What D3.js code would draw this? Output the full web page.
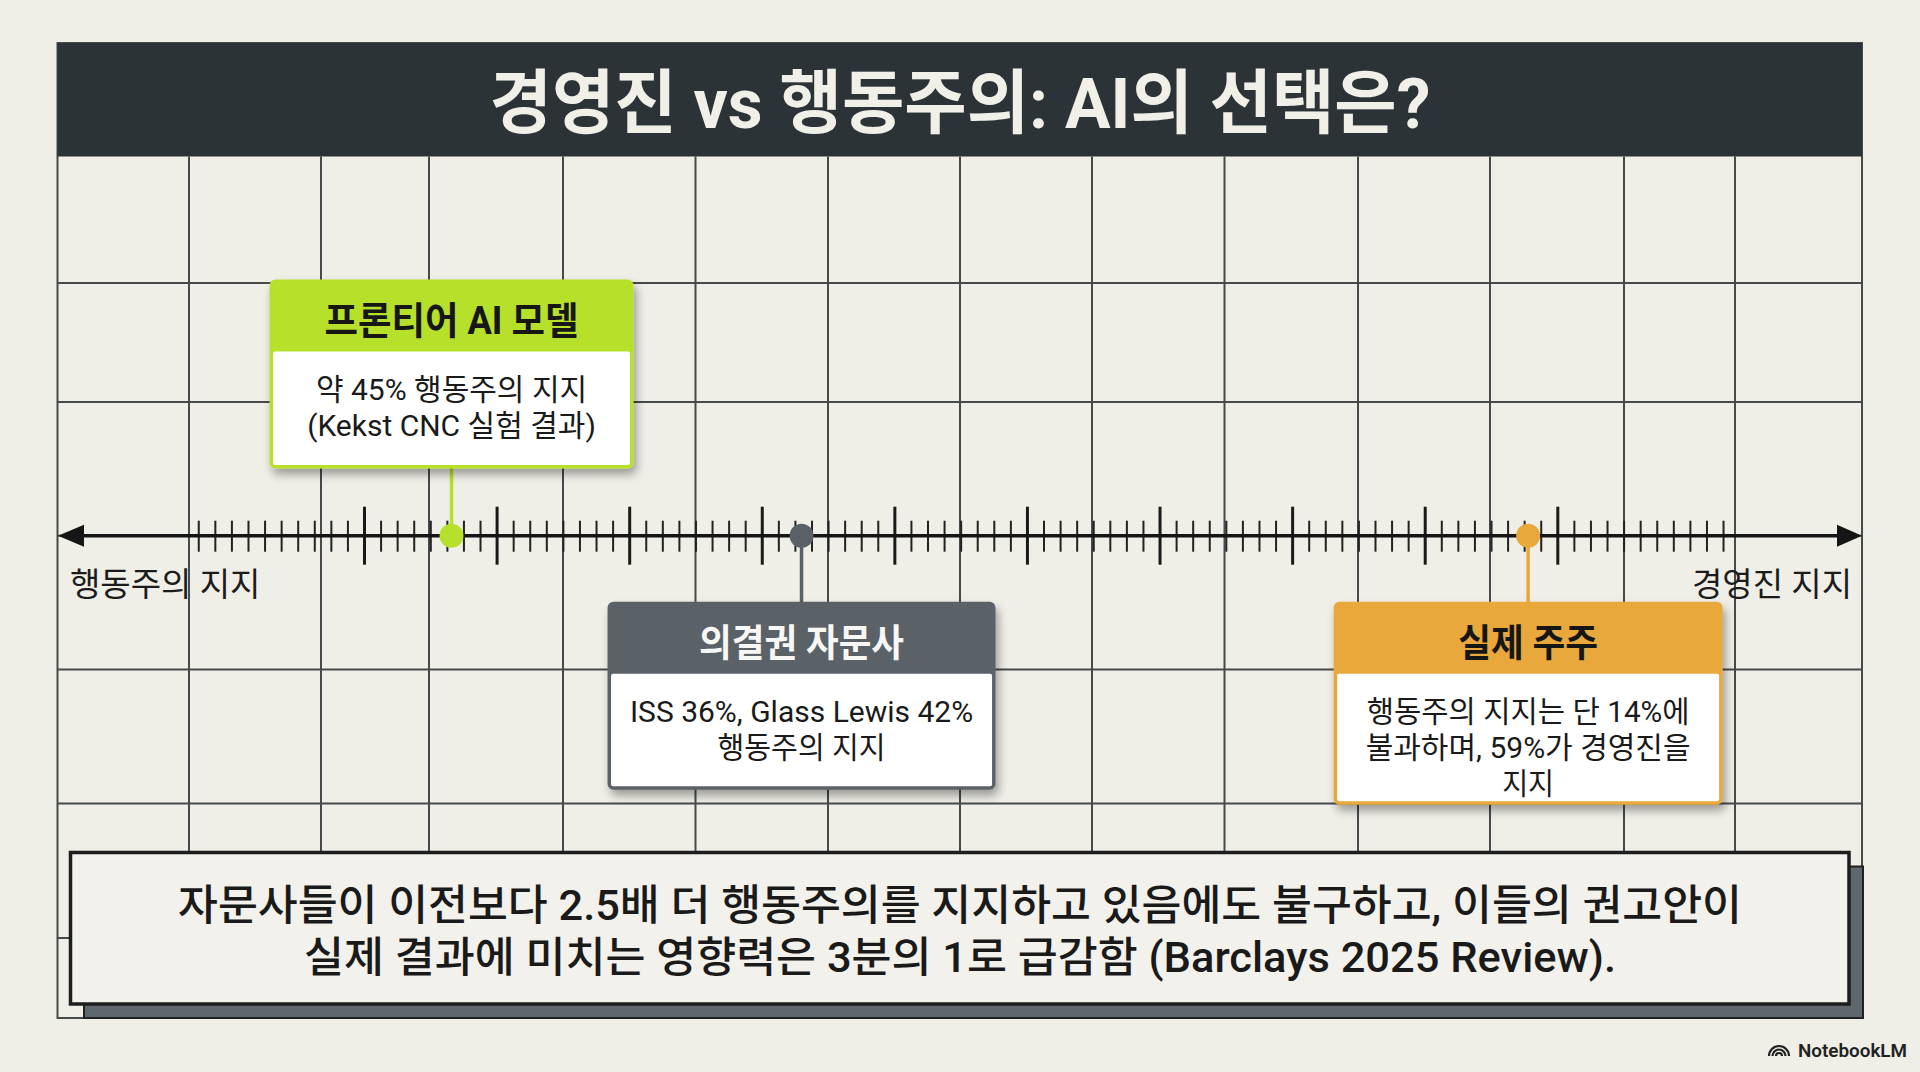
<!DOCTYPE html>
<html>
<head>
<meta charset="utf-8">
<script src="https://cdn.jsdelivr.net/npm/d3@7"></script>
<style>
  html, body { margin: 0; padding: 0; background: #efeee7; }
  svg { display: block; }
  text { font-family: 'Roboto', 'Noto Sans CJK KR', sans-serif; }
</style>
</head>
<body>
<svg id="chart_svg" width="1920" height="1072"></svg>
<script>
// chart content
var TITLE = "경영진 vs 행동주의: AI의 선택은?";
var groups = ["프론티어 AI 모델", "의결권 자문사", "실제 주주"];
// where each group sits on the activist(left) -> management(right) spectrum
var spectrumPos = [16.6, 43.0, 97.8];
var details = [
  ["약 45% 행동주의 지지", "(Kekst CNC 실험 결과)"],
  ["ISS 36%, Glass Lewis 42%", "행동주의 지지"],
  ["행동주의 지지는 단 14%에", "불과하며, 59%가 경영진을", "지지"]
];
var axisEnds = ["행동주의 지지", "경영진 지지"];
var footnote = [
  "자문사들이 이전보다 2.5배 더 행동주의를 지지하고 있음에도 불구하고, 이들의 권고안이",
  "실제 결과에 미치는 영향력은 3분의 1로 급감함 (Barclays 2025 Review)."
];

// styles / layout (not data)
var COLORS = {
  "프론티어 AI 모델": { head: "#b6e02c", text: "#161616" },
  "의결권 자문사": { head: "#5a6267", text: "#f7f7f5" },
  "실제 주주": { head: "#e8a83a", text: "#161616" }
};
var FRAME = { x0: 57.5, x1: 1862, y0: 43, y1: 1018, head: 156.5 };
var GRID_X = [189, 321, 429, 563, 695.5, 828, 960, 1092, 1224.5, 1358, 1490, 1624, 1735];
var GRID_Y = [283, 402, 535.7, 669.5, 803.5, 938];
var AXIS_Y = 535.7;
var BOX = [
  { side: "up", w: 364, top: 279.5, bodyH: 117, titleW: 254, lineW: [273, 288] },
  { side: "down", w: 388, top: 601.7, bodyH: 116, titleW: 205, lineW: [342, 168] },
  { side: "down", w: 389, top: 601.7, bodyH: 131, titleW: 140, lineW: [323, 325, 52] }
];
var HEAD_H = 72;

document.fonts.ready.then(draw);

function fit(sel, w) {
  sel.each(function () {
    var L = this.getComputedTextLength();
    if (w && Math.abs(L - w) > 2) {
      d3.select(this).attr("textLength", w).attr("lengthAdjust", "spacingAndGlyphs");
    }
  });
}

function draw() {
  var svg = d3.select("#chart_svg");

  var defs = svg.append("defs");
  var f = defs.append("filter").attr("id", "shadow").attr("x", "-20%").attr("y", "-20%").attr("width", "150%").attr("height", "160%");
  f.append("feDropShadow").attr("dx", 3).attr("dy", 6).attr("stdDeviation", 5)
    .attr("flood-color", "#000").attr("flood-opacity", 0.35);

  // grid + frame
  var grid = svg.append("g").attr("stroke", "#474a4b").attr("stroke-width", 2);
  grid.selectAll("line.gx").data(GRID_X).enter().append("line")
    .attr("x1", function (d) { return d; }).attr("x2", function (d) { return d; })
    .attr("y1", FRAME.head).attr("y2", FRAME.y1);
  grid.selectAll("line.gy").data(GRID_Y).enter().append("line")
    .attr("x1", FRAME.x0).attr("x2", FRAME.x1)
    .attr("y1", function (d) { return d; }).attr("y2", function (d) { return d; });
  svg.append("rect").attr("x", FRAME.x0).attr("y", FRAME.y0)
    .attr("width", FRAME.x1 - FRAME.x0).attr("height", FRAME.y1 - FRAME.y0)
    .attr("fill", "none").attr("stroke", "#474a4b").attr("stroke-width", 2);

  // header band
  svg.append("rect").attr("x", FRAME.x0).attr("y", FRAME.y0)
    .attr("width", FRAME.x1 - FRAME.x0).attr("height", FRAME.head - FRAME.y0)
    .attr("fill", "#2c3337");
  svg.append("text").attr("x", 960).attr("y", 128).attr("text-anchor", "middle")
    .attr("font-size", 70).attr("font-weight", 700).attr("fill", "#f0efe8")
    .text(TITLE).call(fit, 941);

  // spectrum scale
  var x = d3.scaleLinear().domain([10, 100]).range([364, 1557.3]);

  var major = d3.range(10, 101, 10);
  var minor = d3.range(-2.5, 113, 1.25).filter(function (v) { return major.indexOf(v) < 0; });

  var minorAxis = svg.append("g").attr("transform", "translate(0," + (AXIS_Y - 15) + ")")
    .call(d3.axisBottom(x).tickValues(minor).tickSize(31).tickFormat(""));
  var majorAxis = svg.append("g").attr("transform", "translate(0," + (AXIS_Y - 29) + ")")
    .call(d3.axisBottom(x).tickValues(major).tickSize(58).tickFormat(""));
  [minorAxis, majorAxis].forEach(function (g) { g.select(".domain").remove(); });
  minorAxis.selectAll(".tick line").attr("stroke", "#222").attr("stroke-width", 2);
  majorAxis.selectAll(".tick line").attr("stroke", "#1a1a1a").attr("stroke-width", 3);

  // main arrow line
  svg.append("line").attr("x1", 75).attr("x2", 1845).attr("y1", AXIS_Y).attr("y2", AXIS_Y)
    .attr("stroke", "#151515").attr("stroke-width", 3.5);
  svg.append("path").attr("d", d3.line()([[58, AXIS_Y], [84, AXIS_Y - 11], [84, AXIS_Y + 11]]) + "Z")
    .attr("fill", "#151515");
  svg.append("path").attr("d", d3.line()([[1862, AXIS_Y], [1837, AXIS_Y - 11], [1837, AXIS_Y + 11]]) + "Z")
    .attr("fill", "#151515");

  svg.append("text").attr("x", 70).attr("y", 596).attr("font-size", 33).attr("fill", "#1c1c1c")
    .text(axisEnds[0]).call(fit, 192);
  svg.append("text").attr("x", 1852).attr("y", 596).attr("text-anchor", "end").attr("font-size", 33)
    .attr("fill", "#1c1c1c").text(axisEnds[1]).call(fit, 159);

  // callouts
  groups.forEach(function (name, i) {
    var c = COLORS[name];
    var b = BOX[i];
    var cx = x(spectrumPos[i]);
    var left = cx - b.w / 2;
    var bottom = b.top + HEAD_H + b.bodyH;

    svg.append("line").attr("x1", cx).attr("x2", cx)
      .attr("y1", AXIS_Y).attr("y2", b.side === "up" ? bottom - 2 : b.top + 2)
      .attr("stroke", c.head).attr("stroke-width", 3.5);

    var g = svg.append("g");
    g.append("rect").attr("x", left).attr("y", b.top).attr("width", b.w)
      .attr("height", HEAD_H + b.bodyH).attr("rx", 6).attr("fill", c.head)
      .attr("filter", "url(#shadow)");
    g.append("rect").attr("x", left + 3.5).attr("y", b.top + HEAD_H)
      .attr("width", b.w - 7).attr("height", b.bodyH - 3.5).attr("rx", 2).attr("fill", "#ffffff");

    g.append("text").attr("x", cx).attr("y", b.top + 54).attr("text-anchor", "middle")
      .attr("font-size", 38).attr("font-weight", 700).attr("fill", c.text)
      .text(name).call(fit, b.titleW);

    details[i].forEach(function (line, j) {
      g.append("text").attr("x", cx).attr("y", b.top + HEAD_H + 48 + j * 36)
        .attr("text-anchor", "middle").attr("font-size", 30).attr("fill", "#1a1a1a")
        .text(line).call(fit, b.lineW[j]);
    });

    svg.append("circle").attr("cx", cx).attr("cy", AXIS_Y).attr("r", 12).attr("fill", c.head);
  });

  // footnote box
  svg.append("rect").attr("x", 84).attr("y", 866.5).attr("width", 1779).attr("height", 151.5)
    .attr("fill", "#5e676c").attr("stroke", "#202020").attr("stroke-width", 2);
  svg.append("rect").attr("x", 70.5).attr("y", 852.5).attr("width", 1778.5).attr("height", 151.5)
    .attr("fill", "#f2f1eb").attr("stroke", "#1d1d1d").attr("stroke-width", 3.5);
  var footW = [1564, 1312];
  footnote.forEach(function (line, j) {
    svg.append("text").attr("x", 960).attr("y", 920 + j * 52).attr("text-anchor", "middle")
      .attr("font-size", 42).attr("font-weight", 500).attr("fill", "#1a1a1a")
      .text(line).call(fit, footW[j]);
  });

  // NotebookLM mark
  var logo = svg.append("g").attr("fill", "none").attr("stroke", "#222").attr("stroke-width", 2.2);
  [3, 6.5, 10].forEach(function (r) {
    logo.append("path").attr("d", d3.arc()({ innerRadius: r, outerRadius: r, startAngle: -Math.PI / 2, endAngle: Math.PI / 2 }))
      .attr("transform", "translate(1779,1056)");
  });
  svg.append("text").attr("x", 1798).attr("y", 1057).attr("font-size", 18).attr("font-weight", 600)
    .attr("fill", "#222").text("NotebookLM").call(fit, 109);
}
</script>
</body>
</html>
